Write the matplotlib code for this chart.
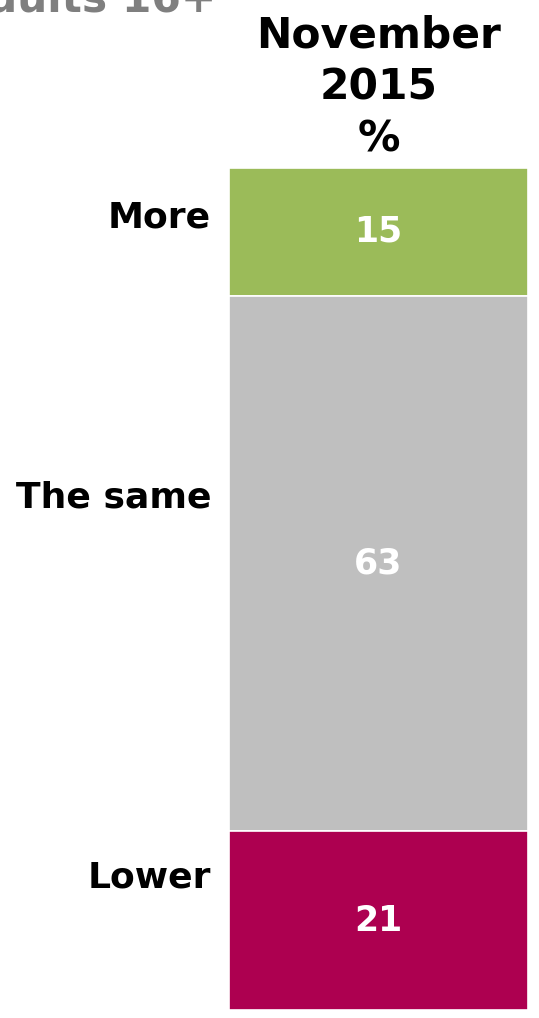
import matplotlib
matplotlib.use("Agg")
import matplotlib.pyplot as plt

categories = ["More", "The same", "Lower"]
values = [15, 63, 21]
colors = ["#9bbb59", "#bfbfbf", "#ad0050"]
column_title = "November\n2015\n%"
header_text = "All adults 16+"

W, H = 539, 1018
fig = plt.figure(figsize=(W / 100, H / 100), dpi=100)
fig.patch.set_facecolor("white")

def fx(px):
    return px / W

def fy(py):
    return 1 - py / H

ax = fig.add_axes([fx(229), fy(1010), fx(528) - fx(229), fy(168) - fy(1010)])
total = sum(values)
starts = [sum(values[:i]) for i in range(len(values))]
ax.bar([0] * len(values), values, bottom=starts, width=1.0, color=colors,
       edgecolor="white", linewidth=1.2)
ax.set_xlim(-0.5, 0.5)
ax.set_ylim(total, 0)
ax.axis("off")

for s, v in zip(starts, values):
    ax.text(0, s + v / 2, str(v), ha="center", va="center", color="white",
            fontsize=25, fontweight="bold", family="DejaVu Sans")

label_y = [5.8, 38.8, 83.4]
for lab, y in zip(categories, label_y):
    ax.text(-0.56, y, lab, ha="right", va="center", color="black",
            fontsize=26, fontweight="bold", family="DejaVu Sans",
            transform=ax.transData, clip_on=False)

fig.text(fx(379), fy(151), column_title, ha="center", va="baseline",
         fontsize=30.5, fontweight="bold", linespacing=1.3, family="DejaVu Sans")

fig.text(fx(216), fy(12), header_text, ha="right", va="baseline", color="#7f7f7f",
         fontsize=30.5, fontweight="bold", family="DejaVu Sans")

fig.savefig("out.png", dpi=100, facecolor="white")
